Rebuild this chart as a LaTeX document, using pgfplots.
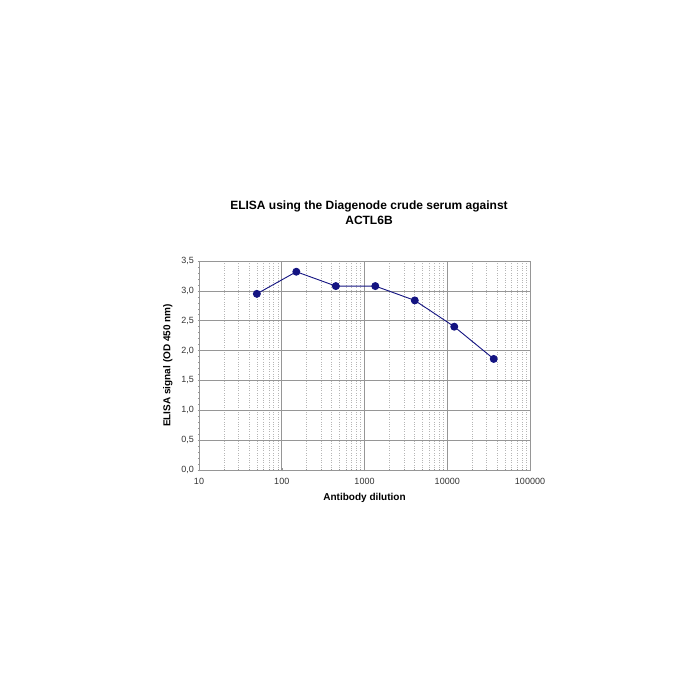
\documentclass[border=0pt]{standalone}
\usepackage{pgfplots}
\pgfplotsset{compat=1.18}
\usepackage{fontspec}
\setmainfont{Liberation Sans}
\definecolor{ptcol}{RGB}{20,20,130}
\definecolor{gridc}{RGB}{150,150,150}
\begin{document}
\begin{tikzpicture}[x=1pt,y=1pt]
\path[use as bounding box,fill=white] (0,0) rectangle (700,700);
\node[font=\fontsize{12}{15}\selectfont\bfseries,align=center] at (369,487) {ELISA using the Diagenode crude serum against\\ACTL6B};
\begin{axis}[
  at={(199pt,230pt)}, anchor=south west,
  scale only axis, width=331pt, height=209pt,
  xmode=log, xmin=10, xmax=100000, ymin=0, ymax=3.5,
  xtick={10,100,1000,10000,100000},
  xticklabels={10,100,1000,10000,100000},
  ytick={0,0.5,1,1.5,2,2.5,3,3.5},
  minor ytick={0.1,0.2,0.3,0.4,0.6,0.7,0.8,0.9,1.1,1.2,1.3,1.4,1.6,1.7,1.8,1.9,2.1,2.2,2.3,2.4,2.6,2.7,2.8,2.9,3.1,3.2,3.3,3.4},
  yticklabel style={/pgf/number format/.cd,use comma,fixed,fixed zerofill,precision=1},
  /pgf/number format/assume math mode=true,
  ticklabel style={font=\fontsize{9}{10}\selectfont, text=black!80},
  xticklabel style={yshift=-3pt},
  axis lines*=left,
  axis line style={gridc, line width=0.6pt},
  tick style={gridc, line width=0.5pt},
  major tick length=3pt, minor tick length=2pt,
  tick align=center,
  xmajorgrids, ymajorgrids, xminorgrids,
  major grid style={gridc, line width=0.6pt},
  minor x grid style={gridc!70, dotted, line width=0.6pt},
  xlabel={Antibody dilution},
  ylabel={ELISA signal (OD 450 nm)},
  label style={font=\fontsize{10}{11}\selectfont\bfseries},
  xlabel style={yshift=-2pt},
  ylabel style={yshift=2pt},
  clip=false,
]
\addplot[ptcol, line width=0.9pt, mark=*, mark size=3.5pt, mark options={fill=ptcol}] coordinates {
(50,2.95) (150,3.32) (450,3.08) (1350,3.08) (4050,2.84) (12150,2.40) (36450,1.86)
};
\end{axis}
\end{tikzpicture}
\end{document}
